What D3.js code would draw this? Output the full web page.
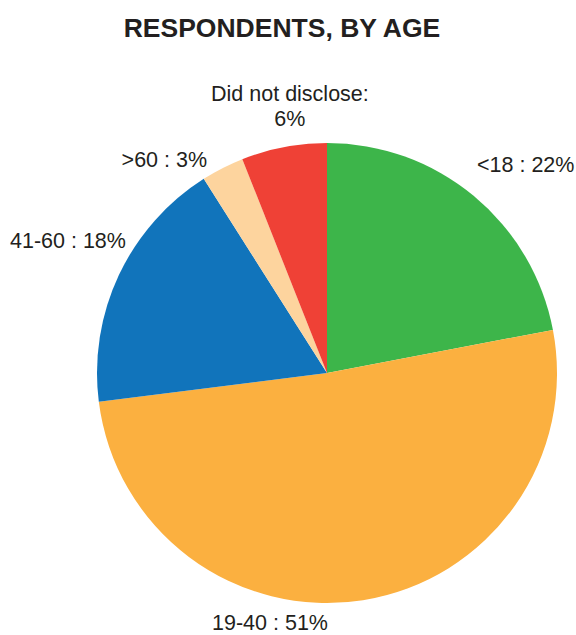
<!DOCTYPE html>
<html>
<head>
<meta charset="utf-8">
<script src="https://cdn.jsdelivr.net/npm/d3@7"></script>
<style>
  html, body { margin: 0; padding: 0; background: #fff; }
  svg { display: block; }
  text { font-family: "Liberation Sans", Arial, sans-serif; fill: #231f20; }
</style>
</head>
<body>
<svg id="chart" width="576" height="635"></svg>
<script>
// Data
const categories = ['<18', '19-40', '41-60', '>60', 'Did not disclose'];
const shares = [22, 51, 18, 3, 6];
const labels = [['<18 : 22%'], ['19-40 : 51%'], ['41-60 : 18%'], ['>60 : 3%'], ['Did not disclose:', '6%']];
const colors = ['#3db54a', '#fbb040', '#1174bb', '#fdd49e', '#ef4136'];

// Label layout (nudges from the label arc, anchors)
const labelNudge = [[-17, 1], [-98, -2], [36, -13], [-1, 27], [12, -15]];
const labelAnchor = ['start', 'middle', 'end', 'end', 'middle'];

const cx = 327, cy = 373, radius = 230, labelRadius = 262;

const svg = d3.select('#chart');

svg.append('text')
  .attr('x', 282)
  .attr('y', 37)
  .attr('text-anchor', 'middle')
  .attr('font-size', 26.5)
  .attr('font-weight', 'bold')
  .text('RESPONDENTS, BY AGE');

const rows = categories.map((c, i) => ({ cat: c, value: shares[i], i: i }));

const pie = d3.pie().value(d => d.value).sort(null);
const arcs = pie(rows);

const arc = d3.arc().innerRadius(0).outerRadius(radius);

const g = svg.append('g').attr('transform', `translate(${cx},${cy})`);

g.selectAll('path')
  .data(arcs)
  .enter()
  .append('path')
  .attr('d', arc)
  .attr('fill', d => colors[d.data.i]);

// Labels
const lab = g.selectAll('text.lbl')
  .data(arcs)
  .enter()
  .append('text')
  .attr('class', 'lbl')
  .attr('font-size', 21.5)
  .attr('text-anchor', d => labelAnchor[d.data.i])
  .attr('transform', d => {
    const mid = (d.startAngle + d.endAngle) / 2;
    const x = Math.sin(mid) * labelRadius + labelNudge[d.data.i][0];
    const y = -Math.cos(mid) * labelRadius + labelNudge[d.data.i][1];
    return `translate(${x},${y})`;
  });

lab.selectAll('tspan')
  .data(d => labels[d.data.i])
  .enter()
  .append('tspan')
  .attr('x', 0)
  .attr('dy', (t, j) => (j === 0 ? 0 : 25))
  .text(t => t);
</script>
</body>
</html>
